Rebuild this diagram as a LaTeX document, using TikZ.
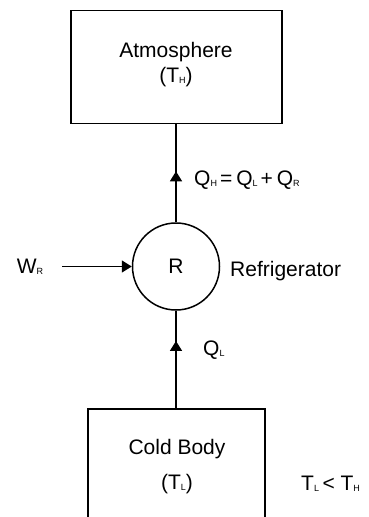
\documentclass[tikz,border=0pt]{standalone}
\usepackage{fontspec}
\setmainfont{Liberation Sans}
\usetikzlibrary{arrows.meta,decorations.markings}
\newcommand{\subsc}[1]{\raisebox{-1.5pt}{\fontsize{9}{9}\selectfont #1}}
\tikzset{
  lbl/.style={font=\fontsize{21}{25}\selectfont, inner sep=0pt},
  boxed/.style={draw, line width=1.6pt, inner sep=0pt},
  conn/.style={line width=1.5pt},
  tip/.style={-{Triangle[length=10pt,width=12pt]}, line width=1.5pt},
  midarrow/.style={postaction={decorate}, decoration={markings, mark=at position #1 with {\arrow{Triangle[length=10pt,width=12pt]}}}}
}
\begin{document}
\begin{tikzpicture}[x=1pt,y=-1pt]
\useasboundingbox (0,0) rectangle (368,517);
% boxes
\node[boxed, minimum width=211pt, minimum height=113pt] (atm) at (176.5,67) {};
\node[boxed, minimum width=177pt, minimum height=140pt] (cold) at (176.5,479) {};
\node[draw, circle, line width=1.5pt, minimum size=87pt, inner sep=0pt, lbl] (R) at (176,266.5) {R};
% texts
\node[lbl] (atmt) at (176,52) {Atmosphere};
\node[lbl] (th) at (176,77) {(T\subsc{H})};
\node[lbl] (coldt) at (177,449) {Cold Body};
\node[lbl] (tl) at (177,484) {(T\subsc{L})};
\node[lbl, anchor=west] (refr) at (230,271) {Refrigerator};
\node[lbl, anchor=west] (qh) at (194,180) {Q\subsc{H}\kern3pt=\kern4pt Q\subsc{L}\kern3pt+\kern4pt Q\subsc{R}};
\node[lbl, anchor=west] (ql) at (203,350) {Q\subsc{L}};
\node[lbl] (wr) at (30,267) {W\subsc{R}};
\node[lbl, anchor=west] (cmp) at (301,484) {T\subsc{L}\,< T\subsc{H}};
% connectors
\coordinate (ws) at (62,266.5);
\draw[tip] (ws) -- (R.west);
\draw[conn, midarrow=0.52] (R.north) -- (atm.south -| R.north);
\draw[conn, midarrow=0.69] (cold.north -| R.south) -- (R.south);
\end{tikzpicture}
\end{document}
